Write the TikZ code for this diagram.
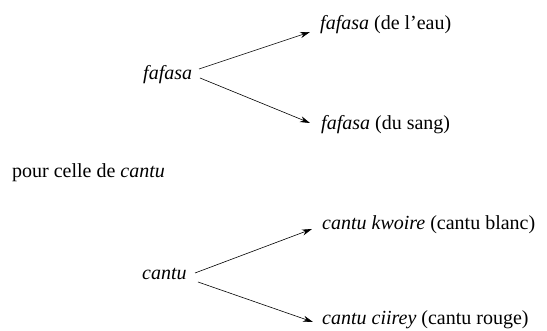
\documentclass[tikz,border=0pt]{standalone}
\usepackage{fontspec}
\setmainfont{Liberation Serif}
\usetikzlibrary{arrows.meta}
\begin{document}
\begin{tikzpicture}[x=1pt,y=1pt,
  lbl/.style={inner sep=0pt, anchor=base west, font=\fontsize{20}{24}\selectfont},
  arr/.style={line width=0.6pt, -{Stealth[length=10pt,width=6pt]}}]
\useasboundingbox (0,0) rectangle (547,331);
% group 1
\node[lbl] (fa) at (143,251) {\textit{fafasa}};
\node[lbl] (fa1) at (320,301) {\textit{fafasa} (de l'eau)};
\node[lbl] (fa2) at (321,201) {\textit{fafasa} (du sang)};
\node[lbl] (pour) at (12,153) {pour celle de \textit{cantu}};
% group 2
\node[lbl] (ca) at (142,51) {\textit{cantu}};
\node[lbl] (ca1) at (322,101) {\textit{cantu kwoire} (cantu blanc)};
\node[lbl] (ca2) at (322,6) {\textit{cantu ciirey} (cantu rouge)};
% arrow ends
\coordinate (fa-a) at (199,262); \coordinate (fa1-in) at (310,299);
\coordinate (fa-b) at (200,253); \coordinate (fa2-in) at (310,208);
\coordinate (ca-a) at (195,58);  \coordinate (ca1-in) at (312,102);
\coordinate (ca-b) at (198,49);  \coordinate (ca2-in) at (313,9);
\draw[arr] (fa-a) -- (fa1-in);
\draw[arr] (fa-b) -- (fa2-in);
\draw[arr] (ca-a) -- (ca1-in);
\draw[arr] (ca-b) -- (ca2-in);
\end{tikzpicture}
\end{document}
